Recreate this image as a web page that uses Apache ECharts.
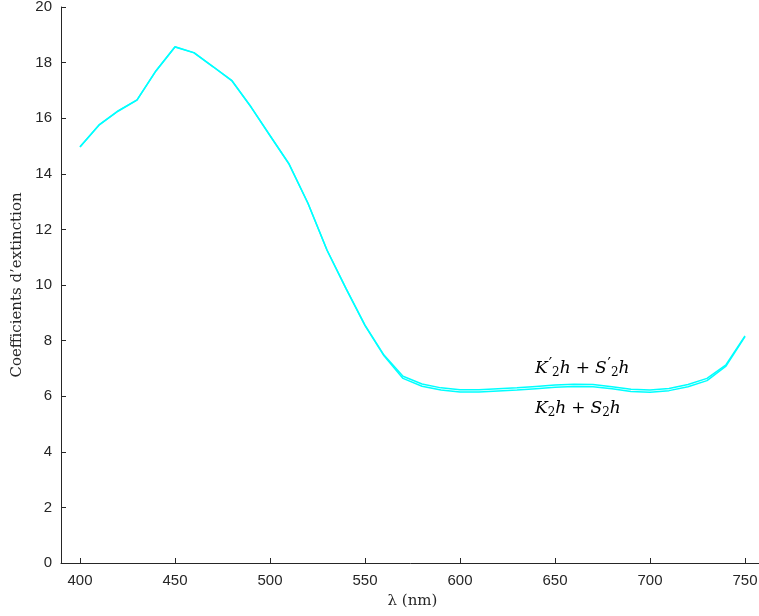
<!DOCTYPE html>
<html><head><meta charset="utf-8">
<script src="https://cdn.jsdelivr.net/npm/echarts@6/dist/echarts.min.js"></script>
<style>html,body{margin:0;padding:0;background:#fff}#c{width:759px;height:616px}</style>
</head><body><div id="c"></div>
<script>
const wavelengths = [400,410,420,430,440,450,460,470,480,490,500,510,520,530,540,550,560,570,580,590,600,610,620,630,640,650,660,670,680,690,700,710,720,730,740,750];
const primeValues = [14.97,15.76,16.26,16.66,17.71,18.57,18.36,17.86,17.35,16.41,15.38,14.36,12.94,11.26,9.88,8.56,7.48,6.72,6.44,6.30,6.23,6.23,6.27,6.30,6.35,6.40,6.43,6.42,6.34,6.25,6.22,6.28,6.42,6.64,7.13,8.17];
const plainValues = [14.96,15.75,16.25,16.65,17.70,18.56,18.35,17.85,17.34,16.40,15.37,14.35,12.93,11.25,9.87,8.54,7.45,6.64,6.36,6.22,6.15,6.15,6.19,6.22,6.27,6.32,6.35,6.34,6.27,6.17,6.14,6.20,6.34,6.56,7.08,8.14];
const xTicks = [400,450,500,550,600,650,700,750];

const axisColor = '#262626';
const chart = echarts.init(document.getElementById('c'), null, {renderer:'canvas'});
const base = {fontFamily:'DejaVu Serif', fontSize:17, color:'#222'};
const rich = {
  i:Object.assign({fontStyle:'italic'}, base),
  n:Object.assign({padding:[0,5,0,5]}, base),
  p:{fontFamily:'DejaVu Sans', fontSize:15, color:'#222', padding:[0,0,6,1]},
  s:{fontFamily:'DejaVu Serif', fontSize:12, color:'#222', padding:[8,0,0,0]},
};
const labelPrime = '{i|K}{p|′}{s|2}{i|h}{n|+}{i|S}{p|′}{s|2}{i|h}';
const labelPlain = '{i|K}{s|2}{i|h}{n|+}{i|S}{s|2}{i|h}';
chart.setOption({
  animation:false,
  grid:{left:61, top:7, right:-5, bottom:53, containLabel:false, outerBoundsMode:'none'},
  xAxis:{
    type:'value', min:390, max:760,
    name:'λ (nm)', nameLocation:'middle', nameGap:31,
    nameTextStyle:{fontFamily:'DejaVu Serif', fontSize:15, color:axisColor},
    axisLine:{show:true, lineStyle:{color:axisColor, width:1}},
    axisTick:{show:true, inside:true, length:5, customValues:xTicks, lineStyle:{color:axisColor}},
    axisLabel:{customValues:xTicks, margin:10, fontFamily:'Liberation Sans', fontSize:15, color:axisColor},
    splitLine:{show:false}
  },
  yAxis:{
    type:'value', min:0, max:20, interval:2,
    name:'Coefficients d\u2019extinction', nameLocation:'middle', nameGap:35,
    nameTextStyle:{fontFamily:'DejaVu Serif', fontSize:15, color:axisColor},
    axisLine:{show:true, lineStyle:{color:axisColor, width:1}},
    axisTick:{show:true, inside:true, length:5, lineStyle:{color:axisColor}},
    axisLabel:{margin:9, fontFamily:'Liberation Sans', fontSize:15, color:axisColor},
    splitLine:{show:false}
  },
  series:[
    {type:'line', name:'prime', data:wavelengths.map((w,k)=>[w,primeValues[k]]), showSymbol:false, lineStyle:{color:'#00ffff', width:1.5}},
    {type:'line', name:'plain', data:wavelengths.map((w,k)=>[w,plainValues[k]]), showSymbol:false, lineStyle:{color:'#00ffff', width:1.5}}
  ],
  graphic:[
    {type:'text', left:535, top:358, style:{text:labelPrime, rich:rich}},
    {type:'text', left:535, top:400, style:{text:labelPlain, rich:rich}}
  ]
});
</script></body></html>
